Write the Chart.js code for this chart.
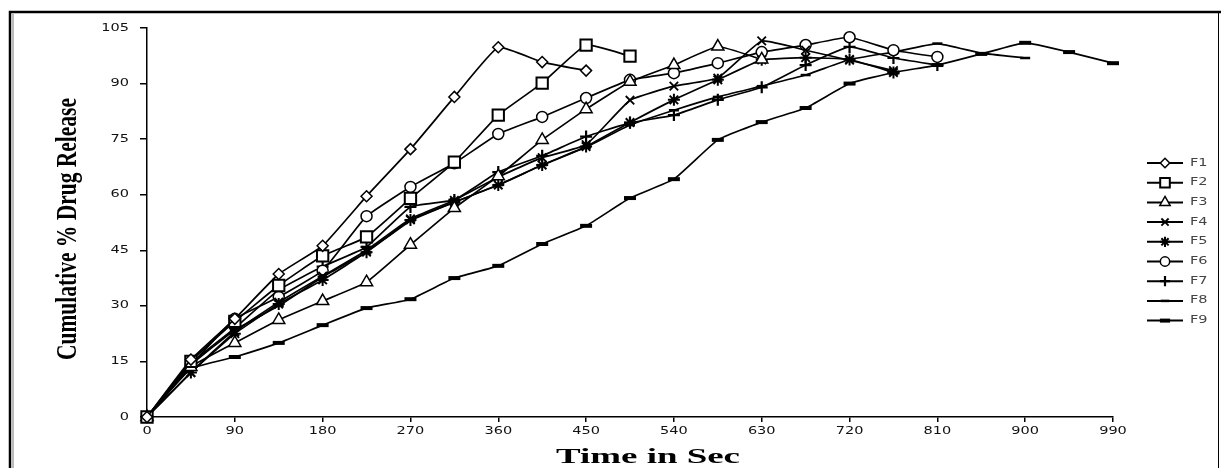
<!DOCTYPE html>
<html>
<head>
<meta charset="utf-8">
<script src="https://cdn.jsdelivr.net/npm/chart.js@4.4.1/dist/chart.umd.min.js"></script>
<style>
  html, body { margin: 0; padding: 0; background: #fff; }
  #wrap { width: 1221px; height: 468px; }
</style>
</head>
<body>
<div id="wrap"><canvas id="myChart" width="1221" height="468"></canvas></div>
<script>
// time points (sec)
var time = [0, 45, 90, 135, 180, 225, 270, 315, 360, 405, 450, 495, 540, 585, 630, 675, 720, 765, 810, 855, 900, 945, 990];

// cumulative % drug release
var f1 = [0, 15.5, 26.5, 38.6, 46.2, 59.6, 72.3, 86.4, 99.8, 95.8, 93.5];
var f2 = [0, 15, 25.8, 35.5, 43.5, 48.6, 59, 68.8, 81.5, 90.1, 100.4, 97.4];
var f3 = [0, 13.5, 20, 26.2, 31.3, 36.4, 46.5, 56.4, 65, 74.8, 83.1, 90.5, 95, 100, 96.5];
var f4 = [0, 12, 23, 31, 38, 45, 53.5, 58.5, 64.8, 70, 73.5, 85.5, 89.3, 91.5, 101.5, 99, 96.3, 93.5];
var f5 = [0, 12, 22.5, 30.5, 37, 44.5, 53.2, 58, 62.6, 68, 73, 79.5, 85.6, 91, 96.4, 97, 96.5, 93];
var f6 = [0, 14, 26.5, 32.4, 39.5, 54.2, 62.1, 68.5, 76.4, 81, 86.1, 91, 92.8, 95.5, 98.5, 100.4, 102.5, 99, 97.2];
var f7 = [0, 14.5, 24, 34.3, 40.6, 45.9, 56.7, 58.6, 66.1, 70.5, 75.7, 79.4, 81.5, 85.6, 89, 95, 99.9, 96.9, 95];
var f8 = [0, 14, 23.5, 30, 37.8, 44.5, 53, 58, 62.6, 68, 72.8, 78.8, 82.8, 86.4, 89.3, 92.3, 96.5, 98.5, 100.8, 98.2, 96.9];
var f9 = [0, 13, 16.2, 20, 24.8, 29.4, 31.8, 37.5, 40.8, 46.7, 51.6, 59.1, 64.2, 74.8, 79.6, 83.4, 90, 93, 95, 98, 101, 98.5, 95.5];

var names = ['F1', 'F2', 'F3', 'F4', 'F5', 'F6', 'F7', 'F8', 'F9'];
var values = [f1, f2, f3, f4, f5, f6, f7, f8, f9];

var xTitle = 'Time in Sec';
var yTitle = 'Cumulative % Drug Release';

// marker look per formulation
var marks = [
  { style: 'rectRot',  r: 5.5, w: 1.5 },
  { style: 'rect',     r: 8,   w: 2 },
  { style: 'triangle', r: 7,   w: 1.5 },
  { style: 'crossRot', r: 6,   w: 1.8 },
  { style: 'star',     r: 6,   w: 2 },
  { style: 'circle',   r: 5.5, w: 1.5 },
  { style: 'cross',    r: 6,   w: 2.2 },
  { style: 'line',     r: 5,   w: 2.5 },
  { style: 'line',     r: 6,   w: 4 }
];

function toPoints(arr) {
  return arr.map(function(v, i) { return { x: time[i], y: v }; });
}

var datasets = values.map(function(arr, i) {
  return {
    label: names[i],
    data: toPoints(arr),
    borderColor: '#000',
    borderWidth: 1.7,
    tension: 0.12,
    fill: false,
    clip: false,
    pointStyle: marks[i].style,
    pointRadius: marks[i].r,
    pointBorderWidth: marks[i].w,
    pointBorderColor: '#000',
    pointBackgroundColor: '#fff'
  };
});

function stretchText(ctx, txt, x, y, align, sx) {
  ctx.save();
  ctx.translate(x, y);
  ctx.scale(sx, 1);
  ctx.textAlign = align;
  ctx.fillText(txt, 0, 0);
  ctx.restore();
}

var decor = {
  id: 'decor',
  afterDraw: function(chart) {
    var ctx = chart.ctx;
    var xs = chart.scales.x, ys = chart.scales.y;
    ctx.save();

    // frame
    ctx.strokeStyle = '#000';
    ctx.lineWidth = 2.5;
    ctx.beginPath();
    ctx.moveTo(10, 468); ctx.lineTo(10, 12); ctx.lineTo(1221, 12);
    ctx.stroke();
    ctx.strokeStyle = '#bbb';
    ctx.lineWidth = 2;
    ctx.beginPath(); ctx.moveTo(13, 14); ctx.lineTo(13, 468); ctx.stroke();
    ctx.strokeStyle = '#000';
    ctx.lineWidth = 1;
    ctx.beginPath(); ctx.moveTo(1218.5, 12); ctx.lineTo(1218.5, 468); ctx.stroke();

    // tick labels (stretched like the source)
    ctx.fillStyle = '#111';
    ctx.font = '10px "DejaVu Sans"';
    ctx.textBaseline = 'middle';
    xs.ticks.forEach(function(t) {
      stretchText(ctx, String(t.value), xs.getPixelForValue(t.value), 431, 'center', 1.45);
    });
    ys.ticks.forEach(function(t) {
      stretchText(ctx, String(t.value), 129, ys.getPixelForValue(t.value), 'right', 1.45);
    });

    // axis titles
    ctx.fillStyle = '#000';
    ctx.font = 'bold 20px "Liberation Serif"';
    ctx.textBaseline = 'alphabetic';
    var wx = ctx.measureText(xTitle).width;
    stretchText(ctx, xTitle, 648, 463, 'center', 184 / wx);

    var wy = ctx.measureText(yTitle).width;
    ctx.save();
    ctx.translate(76, 229);
    ctx.rotate(-Math.PI / 2);
    ctx.scale(262 / wy, 1.5);
    ctx.textAlign = 'center';
    ctx.fillText(yTitle, 0, 0);
    ctx.restore();

    // legend
    ctx.font = '10px "DejaVu Sans"';
    ctx.textBaseline = 'middle';
    chart.data.datasets.forEach(function(ds, i) {
      var y = 163 + i * 19.7;
      ctx.strokeStyle = '#000';
      ctx.lineWidth = 2;
      ctx.beginPath(); ctx.moveTo(1147, y); ctx.lineTo(1183, y); ctx.stroke();
      ctx.fillStyle = '#fff';
      ctx.lineWidth = marks[i].w;
      if (Chart.helpers && Chart.helpers.drawPoint) {
        Chart.helpers.drawPoint(ctx, { pointStyle: marks[i].style, radius: marks[i].r * 0.85, borderWidth: marks[i].w, rotation: 0 }, 1165, y);
      }
      ctx.fillStyle = '#444';
      stretchText(ctx, ds.label, 1190, y, 'left', 1.45);
    });
    ctx.restore();
  }
};

var ctx = document.getElementById('myChart').getContext('2d');
var chart = new Chart(ctx, {
  type: 'line',
  data: { datasets: datasets },
  options: {
    responsive: false,
    animation: false,
    layout: { padding: { top: 28, right: 108, left: 0, bottom: 0 } },
    plugins: { legend: { display: false }, tooltip: { enabled: false } },
    scales: {
      x: {
        type: 'linear',
        min: 0, max: 990,
        ticks: { stepSize: 90, display: false },
        grid: { drawOnChartArea: false, drawTicks: true, tickLength: 5, color: '#000', lineWidth: 1.5 },
        border: { color: '#000', width: 1.5 },
        afterFit: function(s) { s.height = 51; }
      },
      y: {
        min: 0, max: 105,
        ticks: { stepSize: 15, display: false },
        grid: { drawOnChartArea: false, drawTicks: true, tickLength: 7, color: '#000', lineWidth: 1.5 },
        border: { color: '#000', width: 1.5 },
        afterFit: function(s) { s.width = 147; }
      }
    }
  },
  plugins: [decor]
});
</script>
</body>
</html>
